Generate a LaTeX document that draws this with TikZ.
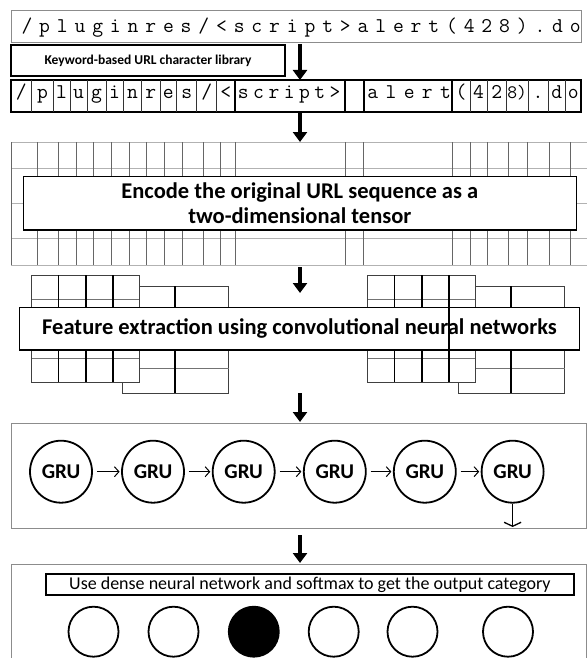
\documentclass[tikz,border=0pt]{standalone}
\usepackage{fontspec}
\newfontfamily\carl{Carlito}
\usetikzlibrary{arrows.meta}
\makeatletter
\newcommand\fixpitch[2]{\def\fp@w{#2}\fp@loop#1\relax}
\def\fp@loop#1{\ifx#1\relax\else\makebox[\fp@w][c]{#1}\expandafter\fp@loop\fi}
\makeatother
\newcommand\rcell[4]{\node[cellchar] (#4) at ({(#1+#2)/2},99) {#3};}
\begin{document}
\begin{tikzpicture}[x=1pt,y=-1pt,
 bigarrow/.style={line width=4pt,-{Triangle[width=14pt,length=10pt]}},
 thinbox/.style={draw=black!45,line width=0.9pt},
 thickbox/.style={draw=black,line width=2pt},
 gridv/.style={draw=black!60,line width=0.9pt},
 gridh/.style={draw=black!30,line width=0.8pt},
 fmthick/.style={draw=black,line width=1.6pt},
 fmthin/.style={draw=black!75,line width=0.9pt},
 fmh/.style={draw=black!55,line width=0.9pt},
 cellchar/.style={font=\ttfamily\fontsize{21}{21}\selectfont,inner sep=0pt,anchor=base},
 grunode/.style={circle,draw,line width=1.8pt,minimum size=62pt,inner sep=0pt,font=\carl\bfseries\fontsize{21}{21}\selectfont},
 outnode/.style={circle,draw,line width=1.8pt,minimum size=50pt,inner sep=0pt},
 gruarrow/.style={line width=1pt,-{Straight Barb[length=4.5pt,width=10pt]},shorten <=4pt,shorten >=1.5pt},
 downbarb/.style={line width=1.3pt,-{Straight Barb[length=4pt,width=17pt]}},
]
\useasboundingbox (0,0) rectangle (588,658);
\fill[white] (0,0) rectangle (588,658);

% top url
\draw[thinbox] (11,10) rectangle (581,42);
\node[anchor=base west,inner sep=0pt,font=\ttfamily\fontsize{21}{21}\selectfont] (url) at (17.9,32.7) {\fixpitch{/pluginres/<script>alert(428).do}{17.69pt}};

% keyword box
\node[thickbox,minimum width=274pt,minimum height=31pt,inner sep=0pt,font=\carl\bfseries\fontsize{13.5}{14}\selectfont] (kw) at (148,60.5) {Keyword-based URL character library};

\coordinate (a1s) at (300,44); \coordinate (a1e) at (300,80);
\draw[bigarrow] (a1s) -- (a1e);

% row of tokens
\draw[thickbox] (11,80) rectangle (581,112);
\foreach \x in {31.7,53.3,70,87.3,106,123.3,141.7,160,176.7,196.7,216.7,470,487,506.3,528,548,565.7} \draw[line width=1pt,black!80] (\x,80) -- (\x,112);
\foreach \x in {235,345,364,452} \draw[line width=2pt] (\x,80) -- (\x,112);
\rcell{11}{31.7}{/}{c1}
\rcell{31.7}{53.3}{p}{c2}
\rcell{53.3}{70}{l}{c3}
\rcell{70}{87.3}{u}{c4}
\rcell{87.3}{106}{g}{c5}
\rcell{106}{123.3}{i}{c6}
\rcell{123.3}{141.7}{n}{c7}
\rcell{141.7}{160}{r}{c8}
\rcell{160}{176.7}{e}{c9}
\rcell{176.7}{196.7}{s}{c10}
\rcell{196.7}{216.7}{/}{c11}
\rcell{216.7}{235}{<}{c12}
\node[cellchar,anchor=base west] (c13) at (235.5,99) {\fixpitch{script>}{15.3pt}};
\node[cellchar,anchor=base west] (c14) at (363.5,99) {\fixpitch{alert}{18.2pt}};
\rcell{452}{470}{(}{c15}
\rcell{470}{487}{4}{c16}
\rcell{487}{506.3}{2}{c17}
\node[cellchar,font=\ttfamily\fontsize{19}{19}\selectfont] (c18) at (517.15,99) {8)};
\rcell{528}{548}{.}{c19}
\rcell{548}{565.7}{d}{c20}
\rcell{565.7}{581}{o}{c21}

\coordinate (a2s) at (300,113); \coordinate (a2e) at (300,142);
\draw[bigarrow] (a2s) -- (a2e);

% tensor grid
\foreach \y in {142,168,203,238,265} \draw[gridh] (11,\y) -- (587,\y);
\foreach \x in {11,37,58,76,93,111,129,146,164,182,203,220,235,345,363,452,470,487,508,527,549,570} \draw[gridv] (\x,142) -- (\x,265);
\node[draw,line width=1.5pt,fill=white,minimum width=553pt,minimum height=53.3pt,inner sep=0pt,align=center,font=\carl\bfseries\fontsize{22.5}{25.7}\selectfont] (enc) at (299.8,203.3) {Encode the original URL sequence as a\\two-dimensional tensor};

\coordinate (a3s) at (300,267); \coordinate (a3e) at (300,293);
\draw[bigarrow] (a3s) -- (a3e);

% feature maps
\foreach \s in {0,336} {
 \begin{scope}[xshift=\s]
  \draw[fmthin] (122.3,286) rectangle (228.7,393.3);
  \draw[fmh] (122.3,368.3) -- (228.7,368.3);
  \draw[fmthick] (175,286) -- (175,393.3);
  \filldraw[fill=white,fmthin] (31.7,275) rectangle (139.3,382.3);
  \draw[fmh] (31.7,299.3) -- (139.3,299.3) (31.7,358.3) -- (139.3,358.3);
  \draw[fmthick] (58.3,275) -- (58.3,382.3) (86,275) -- (86,382.3) (112.7,275) -- (112.7,382.3);
 \end{scope}}
\node[draw,line width=1.5pt,fill=white,minimum width=560.4pt,minimum height=42.3pt,inner sep=0pt,font=\carl\bfseries\fontsize{22.5}{24}\selectfont] (cnn) at (299.5,328.8) {Feature extraction using convolutional neural networks};
\draw[fmthick] (448.7,307.7) -- (448.7,350);

\coordinate (a4s) at (300,393); \coordinate (a4e) at (300,422);
\draw[bigarrow] (a4s) -- (a4e);

% GRU section
\draw[thinbox] (11,423) rectangle (586,528.3);
\node[grunode] (g1) at (61,471.7) {GRU};
\node[grunode] (g2) at (153,471.7) {GRU};
\node[grunode] (g3) at (243.7,471.7) {GRU};
\node[grunode] (g4) at (334.8,471.7) {GRU};
\node[grunode] (g5) at (424.8,471.7) {GRU};
\node[grunode] (g6) at (512.6,471.7) {GRU};
\draw[gruarrow] (g1) -- (g2);
\draw[gruarrow] (g2) -- (g3);
\draw[gruarrow] (g3) -- (g4);
\draw[gruarrow] (g4) -- (g5);
\draw[gruarrow] (g5) -- (g6);
\coordinate (g6out) at (512.6,527);
\draw[downbarb] (g6) -- (g6out);

\coordinate (a5s) at (300,535); \coordinate (a5e) at (300,563);
\draw[bigarrow] (a5s) -- (a5e);

% output section
\draw[thinbox] (11,660) -- (11,564) -- (586,564) -- (586,660);
\node[draw,line width=1.8pt,minimum width=527.7pt,minimum height=20.7pt,inner sep=0pt,font=\carl\fontsize{18}{18}\selectfont] (dense) at (309.9,584.7) {Use dense neural network and softmax to get the output category};
\node[outnode] (o1) at (93.5,631.7) {};
\node[outnode] (o2) at (173.5,631.7) {};
\node[outnode,fill=black] (o3) at (253.8,631.7) {};
\node[outnode] (o4) at (333.7,631.7) {};
\node[outnode] (o5) at (412.5,631.7) {};
\node[outnode] (o6) at (508,631.7) {};
\end{tikzpicture}
\end{document}
